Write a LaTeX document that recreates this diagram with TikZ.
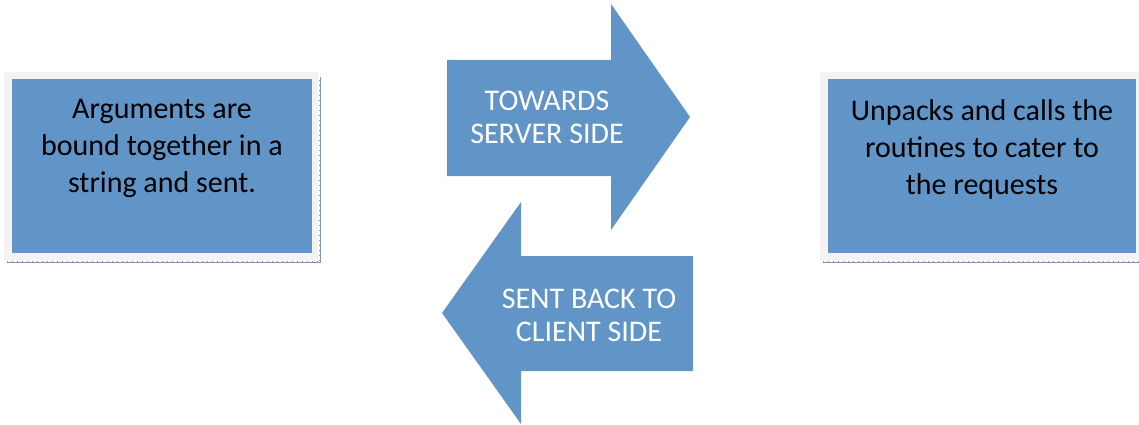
\documentclass[tikz,border=0pt]{standalone}
\usepackage{fontspec}
\setmainfont{Carlito}
\usetikzlibrary{positioning}
\definecolor{bb}{RGB}{97, 149, 200}
\definecolor{fr}{RGB}{243, 243, 243}
\definecolor{sh}{RGB}{130, 150, 178}

\begin{document}
\begin{tikzpicture}[x=1pt, y=-1pt,
  every node/.style={inner sep=0pt},
  frame/.style={rectangle, minimum height=188pt, fill=fr},
  box/.style={rectangle, minimum height=174pt, fill=bb},
  boxtext/.style={align=center, anchor=north, font=\fontsize{30}{37}\selectfont, text=black},
  arrowtext/.style={align=center, font=\fontsize{30}{33}\selectfont, text=white},
  edge/.style={line width=0.6pt, color=sh},
  ticks/.style={line width=2.4pt, color=sh, dash pattern=on 0.7pt off 4.3pt}]
\useasboundingbox (0, 0) rectangle (1139, 425);
\node (clientframe) [frame, minimum width=314pt] at (161, 166) {};
\node (client) [box, minimum width=300pt] at (162, 166) {};
\node (clienttext) [boxtext] at (162, 99) {Arguments are\\bound together in a\\string and sent.};
\node (serverframe) [frame, minimum width=322pt] at (981, 166) {};
\node (server) [box, minimum width=308pt] at (982, 166) {};
\node (servertext) [boxtext] at (982, 99) {Unpacks and calls the\\routines to cater to\\the requests};
\draw [edge] ([xshift=3pt, yshift=-2pt]clientframe.south west) -- ([xshift=2pt, yshift=-2pt]clientframe.south east) -- ([xshift=2pt, yshift=-5pt]clientframe.north east);
\draw [ticks] ([xshift=3pt, yshift=-2pt]clientframe.south west) -- ([xshift=2pt, yshift=-2pt]clientframe.south east) -- ([xshift=2pt, yshift=-5pt]clientframe.north east);
\draw [edge] ([xshift=3pt, yshift=-2pt]serverframe.south west) -- ([yshift=-2pt]serverframe.south east);
\draw [ticks] ([xshift=3pt, yshift=-2pt]serverframe.south west) -- ([yshift=-2pt]serverframe.south east);
\fill [bb] (447, 60) -- (611, 60) -- (611, 4) -- (690, 117) -- (611, 230) -- (611, 176) -- (447, 176) -- cycle;
\fill [bb] (693, 256) -- (521, 256) -- (521, 202) -- (442, 313) -- (521, 424) -- (521, 371) -- (693, 371) -- cycle;
\node (towards) [arrowtext] at (547, 117) {TOWARDS\\SERVER SIDE};
\node (back) [arrowtext] at (589, 315) {SENT BACK TO\\CLIENT SIDE};
\end{tikzpicture}
\end{document}
